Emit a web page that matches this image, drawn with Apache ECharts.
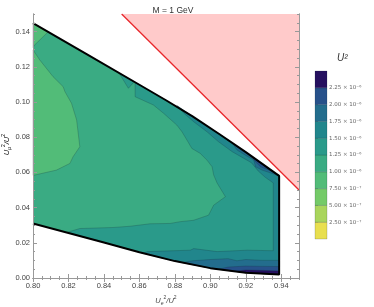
<!DOCTYPE html>
<html><head><meta charset="utf-8">
<script src="https://cdn.jsdelivr.net/npm/echarts@6/dist/echarts.min.js"></script>
<style>html,body{margin:0;padding:0;background:#fff}#c{width:374px;height:307px}</style>
</head><body><div id="c"></div>
<script>
// ---- tick values / labels ----
const xTicks = [0.80,0.82,0.84,0.86,0.88,0.90,0.92,0.94];
const xTickLabels = ['0.80','0.82','0.84','0.86','0.88','0.90','0.92','0.94'];
const yTicks = [0.00,0.02,0.04,0.06,0.08,0.10,0.12,0.14];
const yTickLabels = ['0.00','0.02','0.04','0.06','0.08','0.10','0.12','0.14'];

// ---- contour levels (U^2) ----
const levels = [0,2.5e-7,5e-7,7.5e-7,1e-6,1.25e-6,1.5e-6,1.75e-6,2e-6,2.25e-6,2.5e-6];
const levelTicks = [2.5e-7,5e-7,7.5e-7,1e-6,1.25e-6,1.5e-6,1.75e-6,2e-6,2.25e-6];
const levelLabels = ['2.50 × 10⁻⁷','5.00 × 10⁻⁷','7.50 × 10⁻⁷','1.00 × 10⁻⁶','1.25 × 10⁻⁶','1.50 × 10⁻⁶','1.75 × 10⁻⁶','2.00 × 10⁻⁶','2.25 × 10⁻⁶'];
const levelColors = ['#e8df4f','#a9d55c','#74ca68','#52bc78','#3aab83','#2a9a8a','#21868c','#236d8d','#27518a','#25105f'];

// ---- allowed-region boundaries ----
const upperBound = [[0.80,0.1448],[0.83,0.1274],[0.86,0.1098],[0.875,0.1010],[0.89,0.0918],[0.905,0.0818],[0.92,0.0715],[0.9388,0.0580]];
const lowerBound = [[0.80,0.0310],[0.82,0.0256],[0.84,0.0202],[0.86,0.0146],[0.88,0.0096],[0.90,0.0056],[0.92,0.0030],[0.9388,0.0020]];
const unitarityLine = [[0.85,0.15],[0.95,0.05]];
const excludedRegion = [[0.85,0.15],[0.95,0.15],[0.95,0.05]];

// ---- contour regions ----
const band3TopLeft = [[0.80,0.1448],[0.8085,0.1398],[0.8010,0.1325],[0.80,0.1310]];
const band3Left = [[0.80,0.1296],[0.8038,0.1239],[0.8113,0.1144],[0.8170,0.1087],[0.8180,0.1059],[0.8217,0.0993],[0.8246,0.0898],[0.8264,0.0746],[0.8226,0.0689],[0.8208,0.0651],[0.8132,0.0613],[0.8010,0.0585],[0.80,0.0583]];
const band5Wedge = [[0.8485,0.1165],[0.8538,0.1078],[0.8566,0.1110],[0.8566,0.1118]];
const band5Main = [[0.8576,0.1112],[0.86,0.1098],[0.875,0.1010],[0.89,0.0918],[0.905,0.0818],[0.92,0.0715],[0.9388,0.0580],[0.9388,0.0020],[0.92,0.0030],[0.90,0.0056],[0.88,0.0096],[0.86,0.0146],[0.84,0.0202],[0.8190,0.0259],[0.8264,0.0281],[0.8453,0.0287],[0.8547,0.0294],[0.8660,0.0308],[0.8774,0.0310],[0.8830,0.0320],[0.8906,0.0328],[0.8990,0.0357],[0.9019,0.0414],[0.9085,0.0462],[0.9038,0.0540],[0.9019,0.0585],[0.9010,0.0632],[0.8981,0.0670],[0.8943,0.0708],[0.8896,0.0736],[0.8868,0.0784],[0.8840,0.0831],[0.8811,0.0869],[0.8736,0.0936],[0.8679,0.0983],[0.8576,0.1030]];
const band6Main = [[0.8811,0.0981],[0.8849,0.0938],[0.8906,0.0888],[0.8981,0.0831],[0.9045,0.0775],[0.9123,0.0718],[0.9180,0.0685],[0.9232,0.0655],[0.9270,0.0608],[0.9310,0.0572],[0.9355,0.0540],[0.9355,0.0155],[0.9208,0.0158],[0.9038,0.0150],[0.8906,0.0167],[0.8887,0.0158],[0.8645,0.0150],[0.8620,0.0141],[0.88,0.0096],[0.90,0.0056],[0.92,0.0030],[0.9388,0.0020],[0.9388,0.0580],[0.92,0.0715],[0.905,0.0818],[0.89,0.0918]];
const band7Top = [[0.9123,0.0767],[0.9151,0.0727],[0.9198,0.0698],[0.9245,0.0670],[0.9255,0.0632],[0.9292,0.0613],[0.9349,0.0594],[0.9388,0.0580],[0.92,0.0715]];
const band7Bottom = [[0.8840,0.0088],[0.89,0.0098],[0.90,0.0105],[0.91,0.0110],[0.915,0.0098],[0.92,0.0105],[0.93,0.0100],[0.9388,0.0100],[0.9388,0.0020],[0.92,0.0030],[0.90,0.0056]];
const band8Top = [[0.9226,0.0696],[0.9255,0.0660],[0.9283,0.0632],[0.9330,0.0613],[0.9388,0.0585],[0.9388,0.0580]];
const band8Bottom = [[0.905,0.0050],[0.91,0.0062],[0.92,0.0068],[0.93,0.0066],[0.9388,0.0065],[0.9388,0.0020],[0.92,0.0030]];
const band9Bottom = [[0.914,0.0038],[0.92,0.0046],[0.93,0.0043],[0.9388,0.0040],[0.9388,0.0020],[0.92,0.0030]];

const domain = upperBound.concat(lowerBound.slice().reverse());
const regions = [
  {pts: domain, level: 4, stroke: false},
  {pts: band3TopLeft, level: 3, stroke: true},
  {pts: band3Left, level: 3, stroke: true},
  {pts: band5Wedge, level: 5, stroke: true},
  {pts: band5Main, level: 5, stroke: true},
  {pts: band6Main, level: 6, stroke: true},
  {pts: band7Top, level: 7, stroke: true},
  {pts: band7Bottom, level: 7, stroke: true},
  {pts: band8Top, level: 8, stroke: true},
  {pts: band8Bottom, level: 8, stroke: true},
  {pts: band9Bottom, level: 9, stroke: true}
];
const outline = upperBound.concat(lowerBound.slice().reverse());

const FONT = 'Liberation Sans';
const lab = (arr, labels) => v => { const i = arr.findIndex(t => Math.abs(t - v) < 1e-9); return i < 0 ? '' : labels[i]; };
const frame = {show: true, lineStyle: {color: '#999', width: 1}};
const nameRich = {
  i: {fontFamily: FONT, fontStyle: 'italic', fontSize: 7.5, color: '#444', lineHeight: 11},
  sub: {fontFamily: FONT, fontStyle: 'italic', fontSize: 5, color: '#444', lineHeight: 5, verticalAlign: 'bottom'},
  sup: {fontFamily: FONT, fontSize: 5, color: '#444', lineHeight: 5, verticalAlign: 'top'}
};
function minorAxis(pos, min, max) {
  return {gridIndex: 0, type: 'value', position: pos, min, max, interval: 0.005, z: 10,
    axisLine: frame, axisTick: {show: true, inside: true, length: 2, lineStyle: {color: '#999'}},
    axisLabel: {show: false}, splitLine: {show: false}};
}
function majorAxis(pos, min, max, ticks, labels, showLabel) {
  return {gridIndex: 0, type: 'value', position: pos, min, max, z: 10,
    axisLine: frame, axisTick: {show: true, inside: true, length: 4, customValues: ticks, lineStyle: {color: '#999'}},
    axisLabel: {show: showLabel, customValues: ticks, formatter: lab(ticks, labels), fontFamily: FONT, fontSize: 7.5, color: '#444', margin: 4},
    splitLine: {show: false}};
}

const xMain = majorAxis('bottom', 0.80, 0.95, xTicks, xTickLabels, true);
xMain.name = '{i|U}{sub|e}{sup|2}{i|/U}{sup|2}';
xMain.nameLocation = 'middle'; xMain.nameGap = 17;
xMain.nameTextStyle = {rich: nameRich};
const yMain = majorAxis('left', 0, 0.15, yTicks, yTickLabels, true);
yMain.axisLabel.margin = 3;

const chart = echarts.init(document.getElementById('c'), null, {renderer: 'canvas'});
chart.setOption({
  animation: false,
  backgroundColor: '#fff',
  title: [{text: 'M = 1 GeV', left: 168, top: 1, textAlign: 'center', textStyle: {fontFamily: FONT, fontSize: 8.5, fontWeight: 'normal', color: '#333'}},
          {text: 'U²', left: 332, top: 48, textStyle: {fontFamily: FONT, fontSize: 10, fontStyle: 'italic', fontWeight: 'normal', color: '#333'}}],
  graphic: [{type: 'text', left: 1, top: 134, rotation: Math.PI / 2,
    style: {text: '{i|U}{sub|μ}{sup|2}{i|/U}{sup|2}', rich: nameRich}}],
  grid: [
    {left: 33, right: 75, top: 14, bottom: 29, outerBoundsMode: 'none'},
    {left: 315, width: 12, top: 71, height: 168, outerBoundsMode: 'none'}
  ],
  xAxis: [
    minorAxis('bottom', 0.80, 0.95), xMain,
    minorAxis('top', 0.80, 0.95), majorAxis('top', 0.80, 0.95, xTicks, xTickLabels, false),
    {gridIndex: 1, type: 'value', min: 0, max: 1, show: false}
  ],
  yAxis: [
    minorAxis('left', 0, 0.15), yMain,
    minorAxis('right', 0, 0.15), majorAxis('right', 0, 0.15, yTicks, yTickLabels, false),
    {gridIndex: 1, type: 'value', min: 0, max: 2.5e-6, position: 'right',
     axisLine: {show: false}, splitLine: {show: false},
     axisTick: {show: true, length: 3, customValues: levelTicks, lineStyle: {color: '#999'}},
     axisLabel: {customValues: levelTicks, formatter: lab(levelTicks, levelLabels), fontFamily: 'DejaVu Sans', fontSize: 5.5, color: '#666', margin: 2}}
  ],
  series: [
    {type: 'custom', xAxisIndex: 0, yAxisIndex: 0, z: 1, silent: true,
     data: [[excludedRegion[0][0], excludedRegion[0][1]]],
     renderItem: (p, api) => ({type: 'polygon', shape: {points: excludedRegion.map(q => api.coord(q))}, style: {fill: '#ffcaca'}})},
    {type: 'custom', xAxisIndex: 0, yAxisIndex: 0, z: 2, silent: true,
     data: regions.map((r, i) => [r.pts[0][0], r.pts[0][1], i]),
     renderItem: (p, api) => {
       const r = regions[p.dataIndex];
       return {type: 'polygon', shape: {points: r.pts.map(q => api.coord(q))},
         style: {fill: levelColors[r.level], stroke: r.stroke ? 'rgba(20,40,50,0.45)' : null, lineWidth: 0.5}};
     }},
    {type: 'line', xAxisIndex: 0, yAxisIndex: 0, z: 3, data: outline, symbol: 'none', silent: true,
     lineStyle: {color: '#000', width: 2}},
    {type: 'line', xAxisIndex: 0, yAxisIndex: 0, z: 3, data: unitarityLine, symbol: 'none', silent: true,
     lineStyle: {color: '#e8262b', width: 1.3}},
    {type: 'custom', xAxisIndex: 4, yAxisIndex: 4, z: 2, silent: true,
     data: levelColors.map((c, i) => [0.5, levels[i], i]),
     renderItem: (p, api) => {
       const i = p.dataIndex;
       const a = api.coord([0, levels[i + 1]]), b = api.coord([1, levels[i]]);
       return {type: 'rect', shape: {x: a[0], y: a[1], width: b[0] - a[0], height: b[1] - a[1]},
         style: {fill: levelColors[i], stroke: 'rgba(20,40,50,0.35)', lineWidth: 0.5}};
     }}
  ]
});
</script></body></html>
